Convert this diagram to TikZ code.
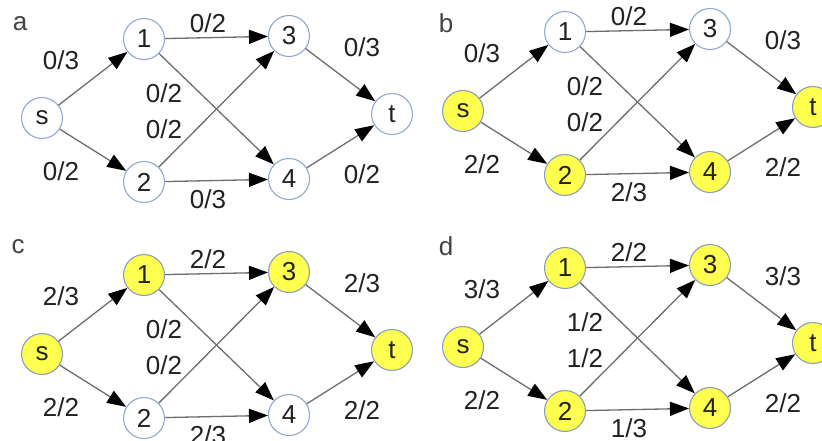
\documentclass[tikz,border=0pt]{standalone}
\usepackage{fontspec}
\setmainfont{Liberation Sans}
\usetikzlibrary{arrows.meta}
\definecolor{ring}{HTML}{8FA8D2}
\definecolor{hot}{HTML}{FFFF50}
\definecolor{wire}{HTML}{6E6E6E}
\definecolor{ink}{HTML}{222222}
\tikzset{
  vtx/.style={circle, draw=ring, line width=0.55pt, minimum size=20.5pt, inner sep=0pt,
    fill=white, text=ink, font=\fontsize{13}{15}\selectfont},
  hotvtx/.style={vtx, fill=hot, draw=ring!75!gray},
  flow/.style={draw=wire, line width=0.65pt,
    -{Triangle[length=9.5pt, width=7pt, color=black]}},
  flowlbl/.style={text=ink, font=\fontsize{13}{15}\selectfont, inner sep=0pt},
  tag/.style={text=ink!85, font=\fontsize{13}{15}\selectfont, inner sep=0pt}
}
% edges and flow/capacity labels of one network
\newcommand\flownet[8]{%
  \draw[flow] (s) -- (1);
  \draw[flow] (s) -- (2);
  \draw[flow] (1) -- (3);
  \draw[flow] (1) -- (4);
  \draw[flow] (2) -- (3);
  \draw[flow] (2) -- (4);
  \draw[flow] (3) -- (t);
  \draw[flow] (4) -- (t);
  \node[flowlbl] (ls1) at (61,60)  {#1};
  \node[flowlbl] (ls2) at (61,171) {#2};
  \node[flowlbl] (l13) at (208,23) {#3};
  \node[flowlbl] (l14) at (164,93) {#4};
  \node[flowlbl] (l23) at (164,129) {#5};
  \node[flowlbl] (l24) at (208,199) {#6};
  \node[flowlbl] (l3t) at (362,47) {#7};
  \node[flowlbl] (l4t) at (362,174) {#8};
}
\begin{document}
\begin{tikzpicture}[x=0.5pt, y=-0.5pt]
\useasboundingbox (0,0) rectangle (822,440);
\fill[white] (0,0) rectangle (822,440);

% panel letters
\node[tag] (pa) at (20,24)  {a};
\node[tag] (pb) at (446,23) {b};
\node[tag] (pc) at (18,247) {c};
\node[tag] (pd) at (446,246) {d};

% a: zero flow
\begin{scope}[shift={(0,0)}, name prefix=a-]
  \node[vtx] (s) at (42,118) {s};
  \node[vtx] (1) at (144,39) {1};
  \node[vtx] (2) at (144,182) {2};
  \node[vtx] (3) at (289,36) {3};
  \node[vtx] (4) at (289,179) {4};
  \node[vtx] (t) at (392,114) {t};
  \flownet{0/3}{0/2}{0/2}{0/2}{0/2}{0/3}{0/3}{0/2}
\end{scope}

% b: path s-2-4-t
\begin{scope}[shift={(421,-7)}, name prefix=b-]
  \node[hotvtx] (s) at (42,118) {s};
  \node[vtx] (1) at (144,39) {1};
  \node[hotvtx] (2) at (144,182) {2};
  \node[vtx] (3) at (289,36) {3};
  \node[hotvtx] (4) at (289,179) {4};
  \node[hotvtx] (t) at (392,114) {t};
  \flownet{0/3}{2/2}{0/2}{0/2}{0/2}{2/3}{0/3}{2/2}
\end{scope}

% c: path s-1-3-t
\begin{scope}[shift={(0,236)}, name prefix=c-]
  \node[hotvtx] (s) at (42,118) {s};
  \node[hotvtx] (1) at (144,39) {1};
  \node[vtx] (2) at (144,182) {2};
  \node[hotvtx] (3) at (289,36) {3};
  \node[vtx] (4) at (289,179) {4};
  \node[hotvtx] (t) at (392,114) {t};
  \flownet{2/3}{2/2}{2/2}{0/2}{0/2}{2/3}{2/3}{2/2}
\end{scope}

% d: maximum flow
\begin{scope}[shift={(421,229)}, name prefix=d-]
  \node[hotvtx] (s) at (42,118) {s};
  \node[hotvtx] (1) at (144,39) {1};
  \node[hotvtx] (2) at (144,182) {2};
  \node[hotvtx] (3) at (289,36) {3};
  \node[hotvtx] (4) at (289,179) {4};
  \node[hotvtx] (t) at (392,114) {t};
  \flownet{3/3}{2/2}{2/2}{1/2}{1/2}{1/3}{3/3}{2/2}
\end{scope}
\end{tikzpicture}
\end{document}
